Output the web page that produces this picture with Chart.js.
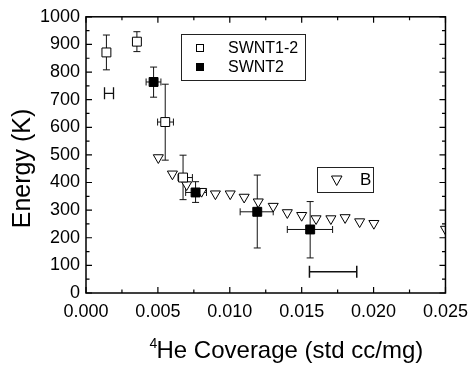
<!DOCTYPE html>
<html>
<head>
<meta charset="utf-8">
<script src="https://cdn.jsdelivr.net/npm/chart.js@4/dist/chart.umd.min.js"></script>
<style>
  html, body { margin: 0; padding: 0; background: #fff; }
  #wrap { width: 476px; height: 365px; }
</style>
</head>
<body>
<div id="wrap"><canvas id="myChart" width="476" height="365"></canvas></div>
<script>
// values
const swnt12X = [0.00142, 0.00354, 0.00551, 0.00675];
const swnt12Y = [871, 910, 619, 418];
const swnt12YLo = [808, 874, 481, 338];
const swnt12YHi = [934, 946, 756, 499];
const swnt12XLo = [0.00125, 0.00335, 0.00498, 0.00640];
const swnt12XHi = [0.00160, 0.00372, 0.00608, 0.00740];

const swnt2X = [0.00470, 0.00762, 0.01191, 0.01559];
const swnt2Y = [764, 364, 294, 230];
const swnt2YLo = [709, 328, 163, 127];
const swnt2YHi = [818, 403, 427, 331];
const swnt2XLo = [0.00418, 0.00693, 0.01072, 0.01400];
const swnt2XHi = [0.00521, 0.00838, 0.01302, 0.01715];

const bX = [0.00503, 0.00601, 0.00700, 0.00804, 0.00900, 0.01003, 0.01100, 0.01198, 0.01302,
            0.01400, 0.01500, 0.01600, 0.01703, 0.01802, 0.01903, 0.02002, 0.02500];
const bY = [490, 431, 392, 368, 359, 359, 347, 330, 314, 291, 281, 269, 269, 273, 258, 252, 231];

// resolution markers (the small "H" and the bar at the bottom)
const markH = [0.0016, 723];        // center x, y
const resBar = [0.01554, 0.01883, 77]; // x from, x to, y

const xTicks = [0, 0.005, 0.010, 0.015, 0.020, 0.025];
const yTicks = [0, 100, 200, 300, 400, 500, 600, 700, 800, 900, 1000];

const FONT = '"Liberation Sans", Arial, sans-serif';

function pts(xs, ys) {
  return xs.map((x, i) => ({x: x, y: ys[i]}));
}

const errBars = {
  id: 'errBars',
  beforeDatasetsDraw(chart) {
    const {ctx, scales: {x, y}} = chart;
    ctx.save();
    ctx.strokeStyle = '#111';
    ctx.lineWidth = 1;
    const cap = 3.5;
    function bars(xs, ys, xlo, xhi, ylo, yhi) {
      xs.forEach((v, i) => {
        const px = x.getPixelForValue(v), py = y.getPixelForValue(ys[i]);
        const t = y.getPixelForValue(yhi[i]), b = y.getPixelForValue(ylo[i]);
        const l = x.getPixelForValue(xlo[i]), r = x.getPixelForValue(xhi[i]);
        ctx.beginPath();
        ctx.moveTo(px, t); ctx.lineTo(px, b);
        ctx.moveTo(px - cap, t); ctx.lineTo(px + cap, t);
        ctx.moveTo(px - cap, b); ctx.lineTo(px + cap, b);
        ctx.moveTo(l, py); ctx.lineTo(r, py);
        ctx.moveTo(l, py - cap); ctx.lineTo(l, py + cap);
        ctx.moveTo(r, py - cap); ctx.lineTo(r, py + cap);
        ctx.stroke();
      });
    }
    bars(swnt12X, swnt12Y, swnt12XLo, swnt12XHi, swnt12YLo, swnt12YHi);
    bars(swnt2X, swnt2Y, swnt2XLo, swnt2XHi, swnt2YLo, swnt2YHi);

    // H marker
    const hx = x.getPixelForValue(markH[0]), hy = y.getPixelForValue(markH[1]);
    ctx.lineWidth = 1.3;
    ctx.beginPath();
    ctx.moveTo(hx - 4.5, hy - 6); ctx.lineTo(hx - 4.5, hy + 6);
    ctx.moveTo(hx + 4.5, hy - 6); ctx.lineTo(hx + 4.5, hy + 6);
    ctx.moveTo(hx - 4.5, hy); ctx.lineTo(hx + 4.5, hy);
    ctx.stroke();

    // resolution bar
    const rl = x.getPixelForValue(resBar[0]), rr = x.getPixelForValue(resBar[1]);
    const ry = y.getPixelForValue(resBar[2]);
    ctx.lineWidth = 1.5;
    ctx.beginPath();
    ctx.moveTo(rl, ry); ctx.lineTo(rr, ry);
    ctx.moveTo(rl, ry - 6); ctx.lineTo(rl, ry + 6);
    ctx.moveTo(rr, ry - 6); ctx.lineTo(rr, ry + 6);
    ctx.stroke();
    ctx.restore();
  }
};

const frame = {
  id: 'frame',
  afterDraw(chart) {
    const {ctx, chartArea: a, scales: {x, y}} = chart;
    ctx.save();
    ctx.strokeStyle = '#000';
    ctx.lineWidth = 1.5;
    ctx.strokeRect(a.left, a.top, a.right - a.left, a.bottom - a.top);

    // inward ticks on all four sides
    ctx.lineWidth = 1.2;
    ctx.beginPath();
    for (let i = 0; i <= 10; i++) {
      const v = i * 0.0025;
      const px = x.getPixelForValue(v);
      const len = i % 2 === 0 ? 6 : 3.5;
      ctx.moveTo(px, a.bottom); ctx.lineTo(px, a.bottom - len);
      ctx.moveTo(px, a.top); ctx.lineTo(px, a.top + len);
    }
    for (let i = 0; i <= 20; i++) {
      const py = y.getPixelForValue(i * 50);
      const len = i % 2 === 0 ? 6 : 3.5;
      ctx.moveTo(a.left, py); ctx.lineTo(a.left + len, py);
      ctx.moveTo(a.right, py); ctx.lineTo(a.right - len, py);
    }
    ctx.stroke();

    // legends
    ctx.lineWidth = 1;
    ctx.strokeStyle = '#222';
    ctx.strokeRect(181.5, 34.5, 124, 46);
    ctx.strokeRect(317.5, 167.5, 56, 25);

    ctx.fillStyle = '#000';
    ctx.font = '16px ' + FONT;
    ctx.textBaseline = 'middle';
    ctx.textAlign = 'left';
    const ds = chart.data.datasets;
    ctx.fillText(ds[0].label, 228, 48.5);
    ctx.fillText(ds[1].label, 228, 67.5);
    ctx.strokeStyle = '#000';
    ctx.fillStyle = '#fff';
    ctx.fillRect(196.5, 44.5, 7, 7);
    ctx.strokeRect(196.5, 44.5, 7, 7);
    ctx.fillStyle = '#000';
    ctx.fillRect(196, 63, 8, 8);

    ctx.font = '17px ' + FONT;
    ctx.fillText(ds[2].label, 360, 180.5);
    ctx.beginPath();
    ctx.moveTo(331.5, 176); ctx.lineTo(342, 176); ctx.lineTo(336.7, 185.5); ctx.closePath();
    ctx.stroke();

    // axis titles
    ctx.font = '24px ' + FONT;
    ctx.textBaseline = 'alphabetic';
    ctx.fillText('He Coverage (std cc/mg)', 156.5, 358);
    ctx.font = '14px ' + FONT;
    ctx.fillText('4', 149.5, 348);

    ctx.font = '25px ' + FONT;
    ctx.translate(30, 168.5);
    ctx.rotate(-Math.PI / 2);
    ctx.textAlign = 'center';
    ctx.fillText('Energy (K)', 0, 0);
    ctx.restore();
  }
};

const config = {
  type: 'scatter',
  data: {
    datasets: [
      {
        label: 'SWNT1-2',
        data: pts(swnt12X, swnt12Y),
        pointStyle: 'rect',
        radius: 6.3,
        backgroundColor: '#fff',
        borderColor: '#000',
        borderWidth: 1
      },
      {
        label: 'SWNT2',
        data: pts(swnt2X, swnt2Y),
        pointStyle: 'rect',
        radius: 6.3,
        backgroundColor: '#000',
        borderColor: '#000',
        borderWidth: 1
      },
      {
        label: 'B',
        data: pts(bX, bY),
        pointStyle: 'triangle',
        rotation: 180,
        radius: 5.8,
        backgroundColor: '#fff',
        borderColor: '#000',
        borderWidth: 1
      }
    ]
  },
  options: {
    responsive: false,
    animation: false,
    events: [],
    layout: {padding: {left: 0, top: 15, right: 27, bottom: 0}},
    plugins: {legend: {display: false}, tooltip: {enabled: false}},
    scales: {
      x: {
        type: 'linear',
        min: 0, max: 0.025,
        afterBuildTicks: (s) => { s.ticks = xTicks.map(v => ({value: v})); },
        afterFit: (s) => { s.height = 72; },
        grid: {display: false, tickLength: 0},
        border: {display: false},
        ticks: {
          color: '#000',
          padding: 8,
          maxRotation: 0,
          font: {family: FONT, size: 18},
          callback: (v) => v.toFixed(3)
        }
      },
      y: {
        type: 'linear',
        min: 0, max: 1000,
        afterBuildTicks: (s) => { s.ticks = yTicks.map(v => ({value: v})); },
        afterFit: (s) => { s.width = 86; },
        grid: {display: false, tickLength: 0},
        border: {display: false},
        ticks: {
          color: '#000',
          padding: 6,
          font: {family: FONT, size: 18},
          callback: (v) => String(v)
        }
      }
    }
  },
  plugins: [errBars, frame]
};

new Chart(document.getElementById('myChart'), config);
</script>
</body>
</html>
